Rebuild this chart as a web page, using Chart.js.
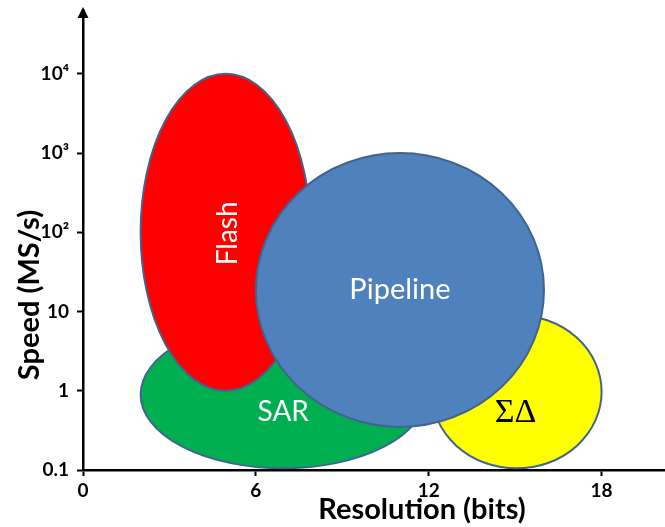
<!DOCTYPE html>
<html>
<head>
<meta charset="utf-8">
<title>ADC architectures</title>
<script src="https://cdn.jsdelivr.net/npm/chart.js@4/dist/chart.umd.min.js"></script>
<style>
  html, body { margin: 0; padding: 0; background: #fff; }
</style>
</head>
<body>
<canvas id="adcChart" width="665" height="527"></canvas>
<script>
// ADC architectures: resolution vs. conversion speed
// regions listed back to front (later ones are painted on top)
const regionNames = ['SAR', 'Flash', 'ΣΔ', 'Pipeline'];
const bitsMin  = [2.0, 2.0, 12.1, 6.0];
const bitsMax  = [11.9, 7.9, 18.0, 16.0];
const speedMin = [0.105, 1, 0.105, 0.35];
const speedMax = [7.7, 10000, 9, 1000];

const xTicks = [0, 6, 12, 18];
const yTicks = [0.1, 1, 10, 100, 1000, 10000];
const yTickLabels = ['0.1', '1', '10', '10²', '10³', '10⁴'];

// look of each region
const fillColors  = ['#00b050', '#ff0000', '#ffff00', '#4f81bd'];
const textColors  = ['#ffffff', '#ffffff', '#000000', '#ffffff'];
const labelFonts  = ['28px Lato', '28px Lato', '34px "Liberation Serif"', '29px Lato'];
const labelAngles = [0, -90, 0, 0];
const labelShift  = [[0, 18], [2, 1], [-1, 21], [0, 0]];
const outline = '#41648f';

const sans = 'Lato, "Noto Sans", sans-serif';

// paint each region as an ellipse spanning its two corner points
const regionPlugin = {
  id: 'regions',
  afterDatasetsDraw(chart) {
    const ctx = chart.ctx;
    chart.data.datasets.forEach((ds, i) => {
      const pts = chart.getDatasetMeta(i).data;
      const x0 = pts[0].x, y0 = pts[0].y, x1 = pts[1].x, y1 = pts[1].y;
      const cx = (x0 + x1) / 2, cy = (y0 + y1) / 2;
      ctx.save();
      ctx.beginPath();
      ctx.ellipse(cx, cy, Math.abs(x1 - x0) / 2, Math.abs(y1 - y0) / 2, 0, 0, Math.PI * 2);
      ctx.fillStyle = ds.regionColor;
      ctx.fill();
      ctx.lineWidth = 2;
      ctx.strokeStyle = outline;
      ctx.stroke();

      ctx.translate(cx + ds.labelShift[0], cy + ds.labelShift[1]);
      ctx.rotate(ds.labelAngle * Math.PI / 180);
      ctx.font = ds.labelFont;
      ctx.fillStyle = ds.textColor;
      ctx.textAlign = 'center';
      ctx.textBaseline = 'middle';
      ctx.fillText(ds.label, 0, 0);
      ctx.restore();
    });
  },
  afterDraw(chart) {
    const ctx = chart.ctx;
    const area = chart.chartArea;
    const ax = chart.scales.x.getPixelForValue(0);

    // arrow head on the speed axis
    ctx.save();
    ctx.fillStyle = '#000';
    ctx.beginPath();
    ctx.moveTo(ax, area.top - 3);
    ctx.lineTo(ax - 5.5, area.top + 8);
    ctx.lineTo(ax + 5.5, area.top + 8);
    ctx.closePath();
    ctx.fill();

    // axis titles
    ctx.font = 'bold 29px ' + sans;
    ctx.textAlign = 'center';
    ctx.textBaseline = 'middle';
    ctx.fillText('Resolution (bits)', 422, 510);
    ctx.translate(30, 295);
    ctx.rotate(-Math.PI / 2);
    ctx.fillText('Speed (MS/s)', 0, 0);
    ctx.restore();
  }
};

const datasets = regionNames.map((name, i) => ({
  label: name,
  data: [
    { x: bitsMin[i], y: speedMin[i] },
    { x: bitsMax[i], y: speedMax[i] },
  ],
  showLine: false,
  pointRadius: 0,
  regionColor: fillColors[i],
  textColor: textColors[i],
  labelFont: labelFonts[i],
  labelAngle: labelAngles[i],
  labelShift: labelShift[i],
}));

const tickFont = { family: sans, size: 19, weight: 'bold' };

new Chart(document.getElementById('adcChart'), {
  type: 'scatter',
  data: { datasets },
  plugins: [regionPlugin],
  options: {
    responsive: false,
    animation: false,
    events: [],
    layout: { padding: { top: 10, left: 0, right: 0, bottom: 0 } },
    plugins: {
      legend: { display: false },
      tooltip: { enabled: false },
    },
    scales: {
      x: {
        type: 'linear',
        min: 0,
        max: 20.2,
        afterFit: (scale) => { scale.height = 57; },
        afterBuildTicks: (scale) => { scale.ticks = xTicks.map((v) => ({ value: v })); },
        border: { display: true, color: '#000', width: 2.5 },
        grid: { drawOnChartArea: false, drawTicks: true, tickLength: 6, tickWidth: 2, tickColor: '#000' },
        ticks: { color: '#000', font: tickFont, padding: 3, autoSkip: false, maxRotation: 0 },
      },
      y: {
        type: 'logarithmic',
        min: 0.1,
        max: 64000,
        // top tick sits well below the axis end, so no label padding is needed
        afterFit: (scale) => { scale.width = 83; scale.paddingTop = 0; scale.paddingBottom = 0; },
        afterBuildTicks: (scale) => { scale.ticks = yTicks.map((v) => ({ value: v })); },
        border: { display: true, color: '#000', width: 2.5 },
        grid: { drawOnChartArea: false, drawTicks: true, tickLength: 6, tickWidth: 2, tickColor: '#000' },
        ticks: {
          color: '#000',
          font: tickFont,
          padding: 8,
          autoSkip: false,
          callback: (value, index) => yTickLabels[index],
        },
      },
    },
  },
});
</script>
</body>
</html>
